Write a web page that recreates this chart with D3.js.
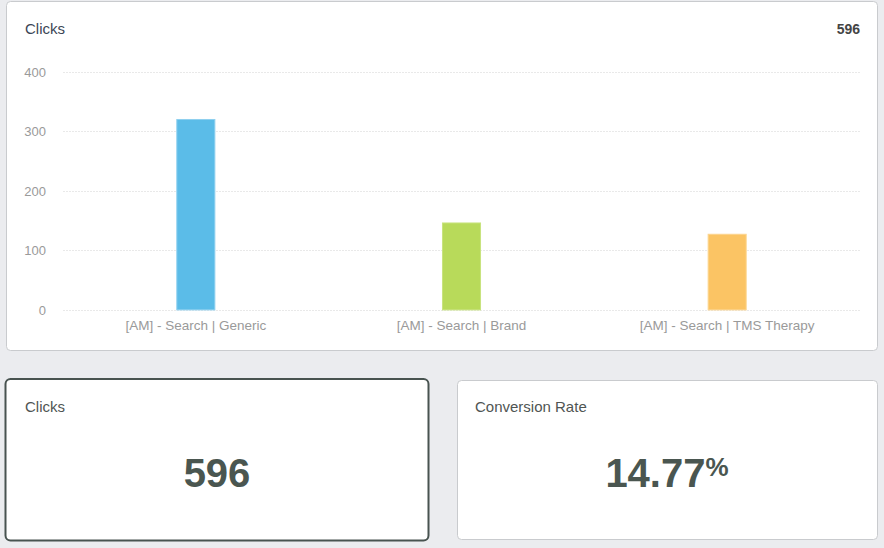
<!DOCTYPE html>
<html>
<head>
<meta charset="utf-8">
<script src="https://cdn.jsdelivr.net/npm/d3@7"></script>
<style>
  html, body { margin: 0; padding: 0; background: #ebecef; }
  svg { display: block; font-family: "Liberation Sans", Arial, sans-serif; }
</style>
</head>
<body>
<div id="chart"></div>
<script>
// Chart data
const campaigns = ["[AM] - Search | Generic", "[AM] - Search | Brand", "[AM] - Search | TMS Therapy"];
const clicks = [321, 147, 128];
const barColors = ["#5bbce8", "#b8da5a", "#fbc464"];
const barStrokes = ["#8fd0ef", "#c8e37e", "#fcd58f"];
const yTicks = [0, 100, 200, 300, 400];
const totalClicks = "596";
const conversionRate = "14.77";

const W = 884, H = 548;

const svg = d3.select("#chart")
  .append("svg")
  .attr("width", W)
  .attr("height", H);

// Cards
svg.append("rect")
  .attr("x", 6.5).attr("y", 1.5)
  .attr("width", 871).attr("height", 349)
  .attr("rx", 4)
  .attr("fill", "#fff").attr("stroke", "#c9cbce");

svg.append("rect")
  .attr("x", 5.5).attr("y", 379)
  .attr("width", 423).attr("height", 161.5)
  .attr("rx", 5)
  .attr("fill", "#fff").attr("stroke", "#485350").attr("stroke-width", 2);

svg.append("rect")
  .attr("x", 457.5).attr("y", 380.5)
  .attr("width", 420).attr("height", 159)
  .attr("rx", 4)
  .attr("fill", "#fff").attr("stroke", "#c9cbce");

// Top card header
svg.append("text")
  .attr("x", 25).attr("y", 34)
  .attr("font-size", 15).attr("fill", "#3b4655")
  .text("Clicks");

svg.append("text")
  .attr("x", 860).attr("y", 34)
  .attr("text-anchor", "end")
  .attr("font-size", 14).attr("font-weight", "bold").attr("fill", "#444")
  .text(totalClicks);

// Bar chart
const margin = { left: 63, right: 860, top: 72, bottom: 309.9 };

const xScale = d3.scaleBand()
  .domain(campaigns)
  .range([margin.left, margin.right])
  .paddingInner(0.853)
  .paddingOuter(0.4265);

const yScale = d3.scaleLinear()
  .domain([0, 400])
  .range([margin.bottom, margin.top]);

// Gridlines
svg.append("g")
  .selectAll("line")
  .data(yTicks)
  .enter()
  .append("line")
  .attr("x1", margin.left)
  .attr("x2", margin.right)
  .attr("y1", (d) => Math.round(yScale(d)) + 0.5)
  .attr("y2", (d) => Math.round(yScale(d)) + 0.5)
  .attr("stroke", "#e9e9e9")
  .attr("stroke-dasharray", "2,1");

// Y axis labels
const yAxis = svg.append("g")
  .attr("transform", `translate(${margin.left - 17},0)`)
  .call(d3.axisLeft(yScale).tickValues(yTicks).tickSize(0).tickPadding(0));
yAxis.select(".domain").remove();
yAxis.selectAll("text")
  .attr("font-size", 13)
  .attr("font-family", "Liberation Sans, Arial, sans-serif")
  .attr("fill", "#9a9a9a");

// Bars
svg.append("g")
  .selectAll("rect")
  .data(campaigns)
  .enter()
  .append("rect")
  .attr("x", (d) => xScale(d) + 0.5)
  .attr("y", (d, i) => yScale(clicks[i]) + 0.5)
  .attr("width", xScale.bandwidth() - 1)
  .attr("height", (d, i) => yScale(0) - yScale(clicks[i]) - 0.5)
  .attr("fill", (d, i) => barColors[i])
  .attr("stroke", (d, i) => barStrokes[i]);

// X axis labels
const xAxis = svg.append("g")
  .attr("transform", `translate(0,${margin.bottom + 10.5})`)
  .call(d3.axisBottom(xScale).tickSize(0).tickPadding(0));
xAxis.select(".domain").remove();
xAxis.selectAll("text")
  .attr("font-size", 13.5)
  .attr("font-family", "Liberation Sans, Arial, sans-serif")
  .attr("fill", "#9a9a9a");

// Bottom left card
svg.append("text")
  .attr("x", 25).attr("y", 412)
  .attr("font-size", 15).attr("fill", "#4f5553")
  .text("Clicks");

svg.append("text")
  .attr("x", 217).attr("y", 487)
  .attr("text-anchor", "middle")
  .attr("font-size", 40).attr("font-weight", "bold").attr("fill", "#4a5650")
  .text(totalClicks);

// Bottom right card
svg.append("text")
  .attr("x", 475).attr("y", 412)
  .attr("font-size", 15).attr("fill", "#4f5553")
  .text("Conversion Rate");

const rate = svg.append("text")
  .attr("x", 667).attr("y", 487)
  .attr("text-anchor", "middle")
  .attr("font-weight", "bold").attr("fill", "#4a5650");
rate.append("tspan").attr("font-size", 40).text(conversionRate);
rate.append("tspan").attr("font-size", 26).attr("dy", -11).text("%");
</script>
</body>
</html>
